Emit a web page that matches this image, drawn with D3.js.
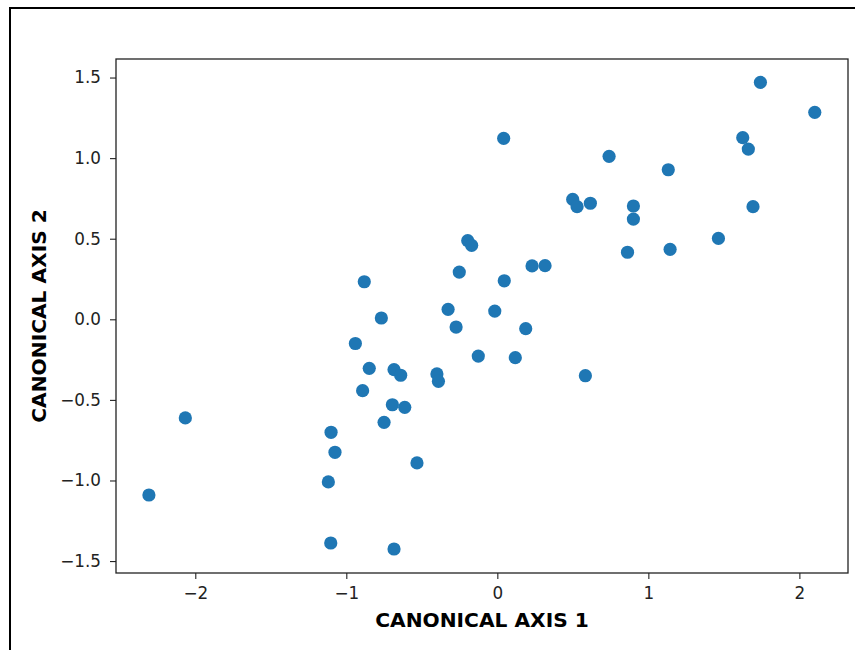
<!DOCTYPE html>
<html>
<head>
<meta charset="utf-8">
<script src="https://cdn.jsdelivr.net/npm/d3@7"></script>
<style>
  body { margin: 0; background: #fff; }
  svg { display: block; font-family: "DejaVu Sans", sans-serif; }
</style>
</head>
<body>
<svg id="chart"></svg>
<script>
// canonical scores
const axis1 = [-2.307, -2.066, -1.103, -1.119, -1.075, -1.101, -0.940, -0.892, -0.881, -0.848,
  -0.768, -0.750, -0.695, -0.684, -0.640, -0.613, -0.684, -0.532, -0.400, -0.390,
  -0.326, -0.273, -0.252, -0.196, -0.170, -0.126, -0.017, 0.042, 0.046, 0.119,
  0.188, 0.230, 0.316, 0.499, 0.528, 0.583, 0.616, 0.740, 0.862, 0.901,
  0.901, 1.132, 1.144, 1.464, 1.625, 1.662, 1.693, 1.742, 2.102];
const axis2 = [-1.090, -0.612, -1.388, -1.009, -0.825, -0.701, -0.150, -0.443, 0.233, -0.304,
  0.008, -0.639, -0.530, -0.312, -0.347, -0.546, -1.425, -0.891, -0.339, -0.385,
  0.062, -0.048, 0.293, 0.488, 0.459, -0.228, 0.051, 1.123, 0.239, -0.238,
  -0.058, 0.331, 0.333, 0.744, 0.699, -0.350, 0.720, 1.011, 0.416, 0.703,
  0.622, 0.928, 0.434, 0.502, 1.127, 1.056, 0.699, 1.470, 1.284];
const xTicks = [-2, -1, 0, 1, 2];
const yTicks = [-1.5, -1.0, -0.5, 0.0, 0.5, 1.0, 1.5];
const xLabel = "CANONICAL AXIS 1";
const yLabel = "CANONICAL AXIS 2";

const data = axis1.map((v, i) => ({ a: v, b: axis2[i] }));

const W = 855, H = 650;
const plot = { left: 116, right: 848, top: 59, bottom: 573 };

const svg = d3.select("#chart")
  .attr("width", W)
  .attr("height", H);

// outer frame (runs off the right and bottom edges)
svg.append("path")
  .attr("d", `M10,${H + 5}V8H${W + 5}`)
  .attr("fill", "none")
  .attr("stroke", "#000")
  .attr("stroke-width", 2);

const x = d3.scaleLinear()
  .domain([-2.525, 2.322])
  .range([plot.left, plot.right]);

const y = d3.scaleLinear()
  .domain([-1.574, 1.615])
  .range([plot.bottom, plot.top]);

const xAxis = d3.axisBottom(x)
  .tickValues(xTicks)
  .tickFormat(d3.format("d"))
  .tickSizeOuter(0)
  .tickSize(6)
  .tickPadding(8.5);

const yAxis = d3.axisLeft(y)
  .tickValues(yTicks)
  .tickFormat(d3.format(".1f"))
  .tickSizeOuter(0)
  .tickSize(6)
  .tickPadding(9);

const gx = svg.append("g")
  .attr("transform", `translate(0, ${plot.bottom})`)
  .call(xAxis);

const gy = svg.append("g")
  .attr("transform", `translate(${plot.left}, 0)`)
  .call(yAxis);

[gx, gy].forEach(g => {
  g.select(".domain").remove();
  g.selectAll(".tick line").attr("stroke", "#222").attr("stroke-width", 1.1);
  g.selectAll(".tick text")
    .attr("fill", "#222")
    .style("font-size", "16.8px")
    .style("font-family", "DejaVu Sans");
});

svg.selectAll(".dot")
  .data(data)
  .enter()
  .append("circle")
  .attr("class", "dot")
  .attr("cx", d => x(d.a))
  .attr("cy", d => y(d.b))
  .attr("r", 6.6)
  .attr("fill", "#1f77b4");

// axes box
svg.append("rect")
  .attr("x", plot.left)
  .attr("y", plot.top)
  .attr("width", plot.right - plot.left)
  .attr("height", plot.bottom - plot.top)
  .attr("fill", "none")
  .attr("stroke", "#222")
  .attr("stroke-width", 1.3);

svg.append("text")
  .attr("x", (plot.left + plot.right) / 2)
  .attr("y", 627)
  .attr("text-anchor", "middle")
  .style("font-size", "20.2px")
  .style("font-weight", "bold")
  .text(xLabel);

svg.append("text")
  .attr("transform", `translate(46, ${(plot.top + plot.bottom) / 2}) rotate(-90)`)
  .attr("text-anchor", "middle")
  .style("font-size", "20.2px")
  .style("font-weight", "bold")
  .text(yLabel);
</script>
</body>
</html>
